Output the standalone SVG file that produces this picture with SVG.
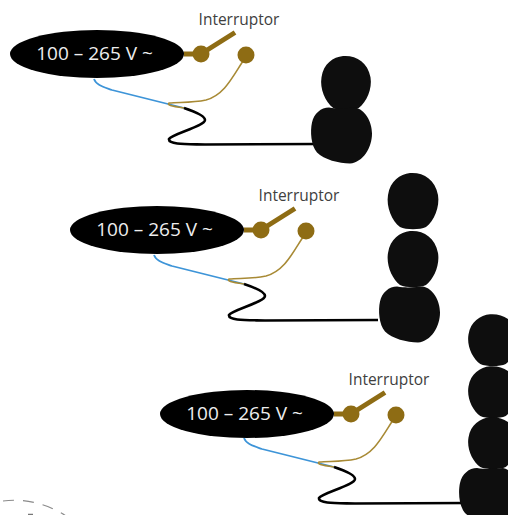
<svg xmlns="http://www.w3.org/2000/svg" xmlns:xlink="http://www.w3.org/1999/xlink" width="508" height="515" viewBox="0 0 508 515">
<style>
.supply{fill:#000}
.volt{font:19px "Open Sans","Noto Sans",sans-serif;fill:#eeeeee;text-anchor:middle}
.lab{font:15.500px "Open Sans","Noto Sans",sans-serif;fill:#404040;text-anchor:middle}
.brass{fill:#8e6c14}
.lever{stroke:#8e6c14;stroke-width:5;fill:none}
.bw{stroke:#a88a35;stroke-width:1.600;fill:none}
.blue{stroke:#3d94d8;stroke-width:1.800;fill:none}
.blk{stroke:#000;stroke-width:2.600;fill:none}
.spk{fill:#0e0e0e}
.arc{stroke:#8a8a8a;stroke-width:1.200;fill:none;stroke-dasharray:11 9}
</style>
<defs>
<g id="conn">
<path class="blue" d="M94 79C96 85 104 87 112 90L184 108"/>
<path class="bw" d="M243 61C232 78 224 95 206 100C192 103 180 102 169 103C167 105 170 106 184 108"/>
<path class="blk" d="M184 108C196 112 205 116 205 120C205 126 172 134 169 139C168 145 190 144 205 144.500L318 144"/>
</g>
<g id="sup">
<ellipse class="supply" cx="97" cy="54" rx="87" ry="24"/>
<text class="volt" x="94.500" y="60">100 – 265 V ~</text>
</g>
<g id="sw">
<text class="lab" x="239" y="25">Interruptor</text>
<path class="lever" d="M184 54H201M204 52L235 32.500"/>
<circle class="brass" cx="201" cy="54" r="8.500"/>
<circle class="brass" cx="246" cy="55" r="8.500"/>
</g>
<path id="blob" class="spk" d="M-3 -28C10 -29 22 -22 25 -6C27 6 21 20 13 26C7 29 -7 29 -13 26C-21 20 -27 6 -25 -6C-23 -20 -13 -27 -3 -28Z"/>
<path id="big" class="spk" d="M-12 -28C0 -26 8 -28 14 -28C24 -26 31 -14 31 -2C31 12 22 27 9 28C-2 28 -17 24 -24 17C-30 10 -31 -4 -29 -13C-27 -22 -20 -28 -12 -28Z"/>
</defs>
<g id="connectors">
<use xlink:href="#conn" href="#conn"/>
<use xlink:href="#conn" href="#conn" x="60" y="176"/>
<use xlink:href="#conn" href="#conn" x="150" y="359"/>
</g>
<g id="supply-1"><use xlink:href="#sup" href="#sup"/></g>
<g id="switch-1"><use xlink:href="#sw" href="#sw"/></g>
<g id="speakers-1">
<use xlink:href="#blob" href="#blob" transform="translate(346 83) scale(.98 .96)"/>
<use xlink:href="#big" href="#big" x="341" y="135.500"/>
</g>
<g id="supply-2"><use xlink:href="#sup" href="#sup" x="60" y="176"/></g>
<g id="switch-2"><use xlink:href="#sw" href="#sw" x="60" y="176"/></g>
<g id="speakers-2">
<use xlink:href="#blob" href="#blob" x="413" y="201"/>
<use xlink:href="#blob" href="#blob" x="413" y="259"/>
<use xlink:href="#big" href="#big" x="409" y="314.500"/>
</g>
<g id="supply-3"><use xlink:href="#sup" href="#sup" x="150" y="360"/></g>
<g id="switch-3"><use xlink:href="#sw" href="#sw" x="150" y="360"/></g>
<g id="speakers-3">
<use xlink:href="#blob" href="#blob" transform="translate(493 340) scale(.98 .92)"/>
<use xlink:href="#blob" href="#blob" transform="translate(493 392) scale(.98 .92)"/>
<use xlink:href="#blob" href="#blob" transform="translate(493 443) scale(.98 .92)"/>
<use xlink:href="#big" href="#big" x="489" y="496"/>
</g>
<g id="arc">
<path class="arc" d="M3 501C25 498 48 504 66 516"/>
<path d="M28 514.500H33" stroke="#777" stroke-width="1.500" fill="none"/>
</g>
</svg>
